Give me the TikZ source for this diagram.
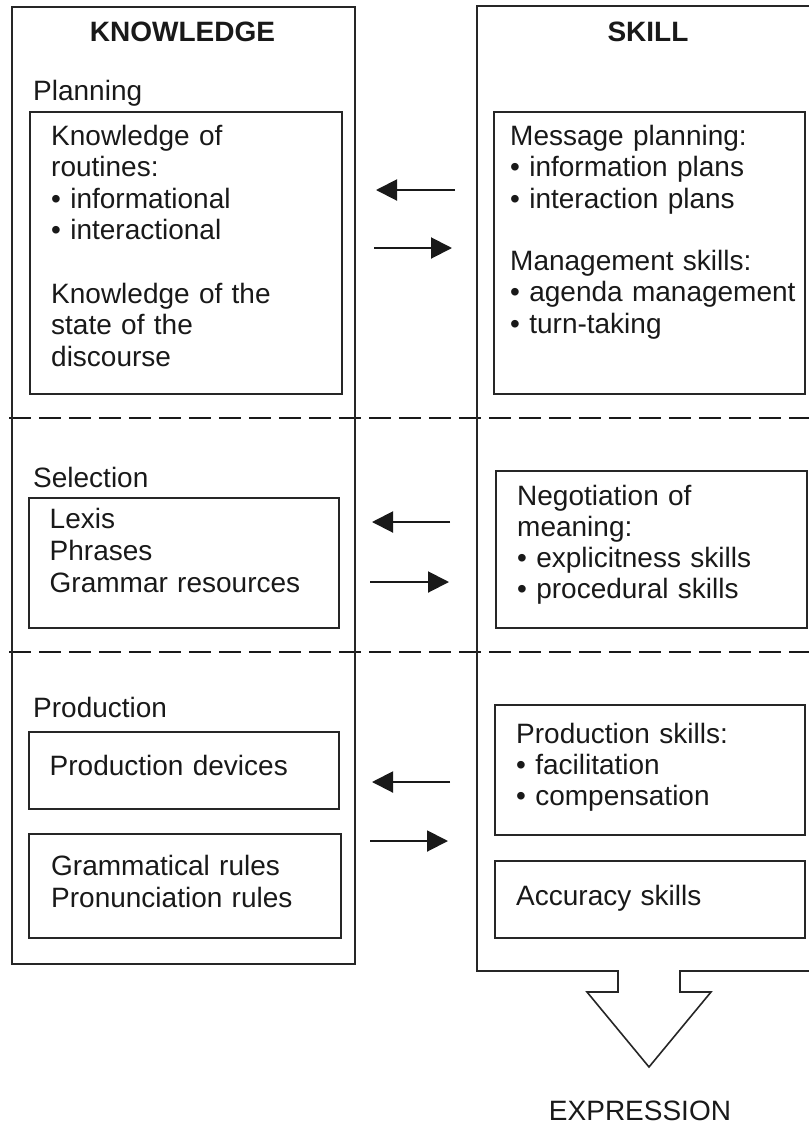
\documentclass[tikz,border=0pt]{standalone}
\usepackage{fontspec}
\setmainfont{Liberation Sans}
\usetikzlibrary{arrows.meta}
\begin{document}
\begin{tikzpicture}[x=1pt,y=-1pt,
  outline/.style={draw=black!85, line width=1.6pt},
  frame/.style={outline, inner sep=0pt, anchor=north west},
  txt/.style={anchor=base west, inner sep=0pt, align=left, text width=300pt,
              font=\fontsize{28}{31.5}\selectfont, text=black!90},
  head/.style={anchor=base, inner sep=0pt, font=\fontsize{28}{31.5}\selectfont\bfseries, text=black!90},
  divider/.style={draw=black!90, line width=2.4pt, dash pattern=on 22pt off 8pt},
  arr/.style={draw=black!90, line width=2pt, -{Triangle[length=21pt,width=21pt]}}
]
\useasboundingbox (0,0) rectangle (809,1128);

% dividers between the three stages
\coordinate (d1l) at (9,418);   \coordinate (d1r) at (809,418);
\coordinate (d2l) at (9,652);   \coordinate (d2r) at (809,652);
\draw[divider] (d1l) -- (d1r);
\draw[divider] (d2l) -- (d2r);

% KNOWLEDGE column
\node[frame, minimum width=343pt, minimum height=957pt] (knowledge) at (11,6) {};
\node[head] (khead) at (182.5,41.5) {KNOWLEDGE};

\node[txt] (lplan) at (33,100) {Planning};
\node[frame, minimum width=312pt, minimum height=282pt] (kplan) at (29,111) {};
\node[txt] (kplan1) at (51,145) {Knowledge of\\routines:\\• informational\\• interactional};
\node[txt] (kplan2) at (51,303) {Knowledge of the\\state of the\\discourse};

\node[txt] (lsel) at (33,487) {Selection};
\node[frame, minimum width=310pt, minimum height=130pt] (ksel) at (28,497) {};
\node[txt, font=\fontsize{28}{32}\selectfont] (ksel1) at (49.5,528) {Lexis\\Phrases\\Grammar resources};

\node[txt] (lprod) at (33,717) {Production};
\node[frame, minimum width=310pt, minimum height=77pt] (kdev) at (28,731) {};
\node[txt] (kdev1) at (49.5,775) {Production devices};
\node[frame, minimum width=312pt, minimum height=104pt] (krules) at (28,833) {};
\node[txt, font=\fontsize{28}{32.5}\selectfont] (krules1) at (51,875) {Grammatical rules\\Pronunciation rules};

% SKILL column, its lower edge opening into the output arrow
\draw[outline] (809,6) -- (477,6) -- (477,971) -- (618,971) -- (618,992)
  -- (587,992) -- (649,1067) -- (711,992) -- (680,992) -- (680,971) -- (809,971);
\node[head] (shead) at (648,41.5) {SKILL};

\node[frame, minimum width=311pt, minimum height=282pt] (splan) at (493,111) {};
\node[txt] (splan1) at (510,145) {Message planning:\\• information plans\\• interaction plans};
\node[txt] (splan2) at (510,270) {Management skills:\\• agenda management\\• turn-taking};

\node[frame, minimum width=311pt, minimum height=157pt] (sneg) at (495,470) {};
\node[txt, font=\fontsize{28}{31}\selectfont] (sneg1) at (517,505) {Negotiation of\\meaning:\\• explicitness skills\\• procedural skills};

\node[frame, minimum width=310pt, minimum height=130pt] (sprod) at (494,704) {};
\node[txt, font=\fontsize{28}{31}\selectfont] (sprod1) at (516,743) {Production skills:\\• facilitation\\• compensation};
\node[frame, minimum width=310pt, minimum height=77pt] (sacc) at (494,860) {};
\node[txt] (sacc1) at (516,905) {Accuracy skills};

\node[anchor=base, inner sep=0pt, font=\fontsize{28}{31.5}\selectfont, text=black!90] (expr) at (640,1120) {EXPRESSION};

% exchange arrows between the columns
\coordinate (p1s) at (455,190); \coordinate (p1e) at (376,190);
\coordinate (p2s) at (374,248); \coordinate (p2e) at (452,248);
\coordinate (s1s) at (450,522); \coordinate (s1e) at (372,522);
\coordinate (s2s) at (370,582); \coordinate (s2e) at (449,582);
\coordinate (r1s) at (450,782); \coordinate (r1e) at (372,782);
\coordinate (r2s) at (370,841); \coordinate (r2e) at (448,841);
\draw[arr] (p1s) -- (p1e);
\draw[arr] (p2s) -- (p2e);
\draw[arr] (s1s) -- (s1e);
\draw[arr] (s2s) -- (s2e);
\draw[arr] (r1s) -- (r1e);
\draw[arr] (r2s) -- (r2e);
\end{tikzpicture}
\end{document}
